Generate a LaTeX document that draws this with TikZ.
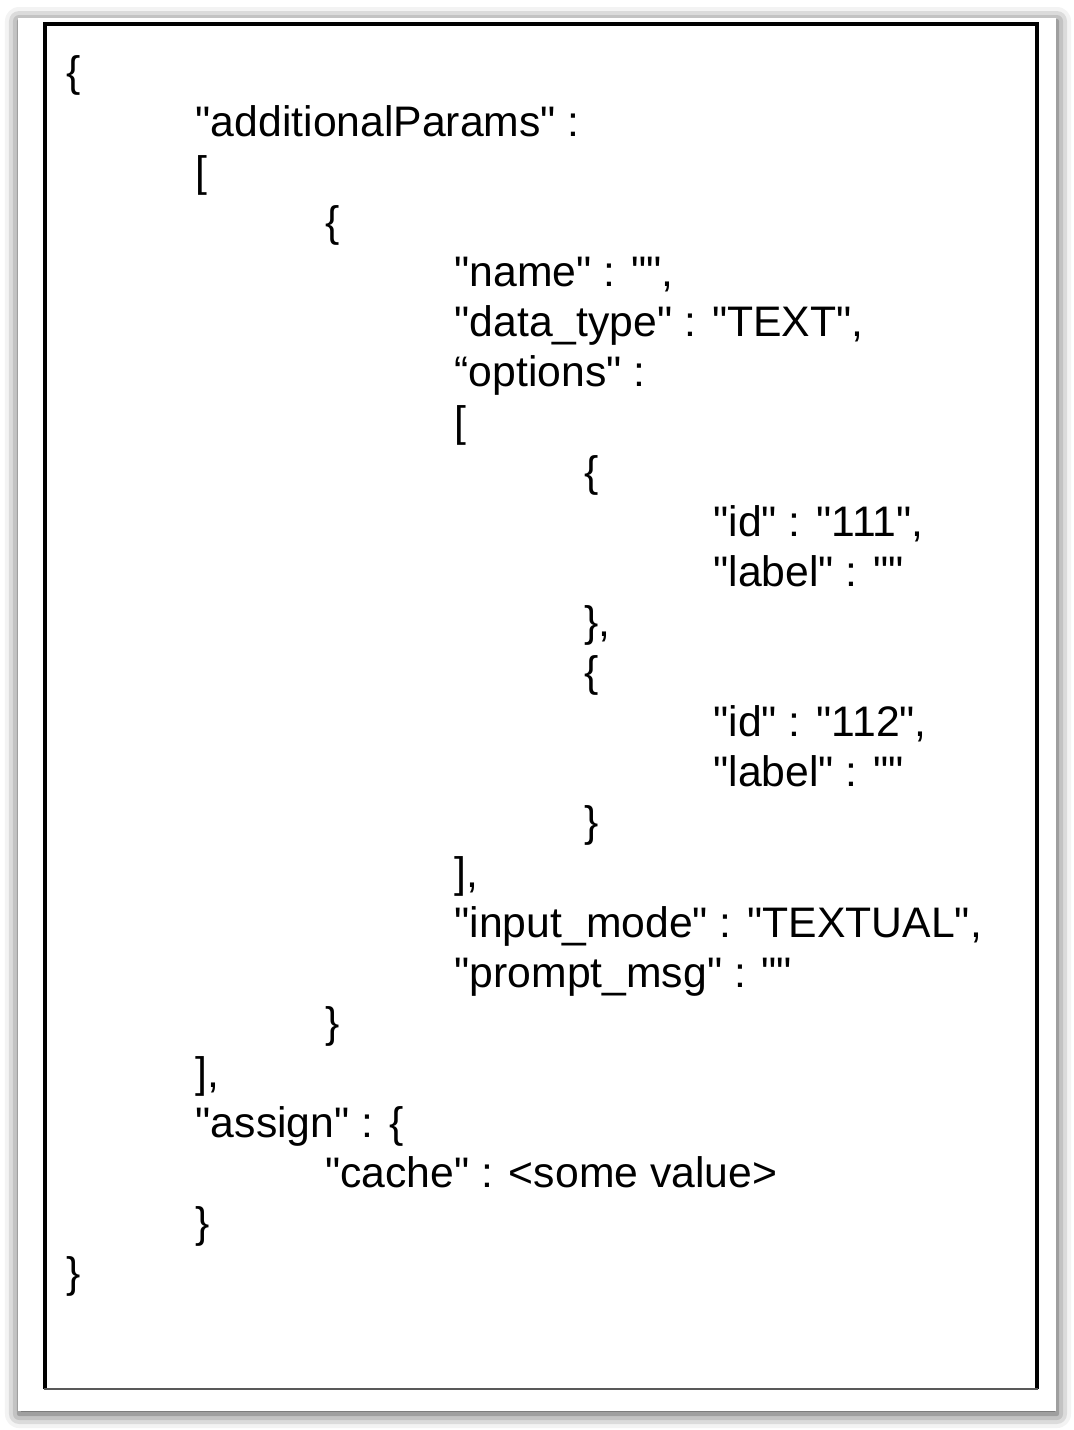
\documentclass[tikz,border=0pt]{standalone}
\usepackage{fontspec}
\setmainfont{Liberation Sans}[Ligatures=TeXOff]
\usepackage{tikz}
\usetikzlibrary{shadows.blur}

\begin{document}
\begin{tikzpicture}[x=0.5pt,y=-0.5pt,
  every node/.style={anchor=base west,inner sep=0pt,font=\fontsize{21.35pt}{25pt}\selectfont}]
\useasboundingbox (0,0) rectangle (1074,1430);
% sheet and frame
\fill[white,blur shadow={shadow xshift=0.5pt,shadow yshift=-1.5pt,shadow blur radius=7pt,shadow opacity=75}] (18,18) rectangle (1056,1411);
\draw[line width=1.7pt] (45,1389) -- (45,24) -- (1037,24) -- (1037,1389);
\draw[line width=1pt,black!65] (44,1389) -- (1038,1389);
% text lines
\node (A) at (66,86) {\{};
\node (B) at (195.4,136.1) {"additionalParams" :};
\node (C) at (195.4,186.1) {[};
\node (D) at (324.8,236.2) {\{};
\node (E) at (454.2,286.2) {"name" : "",};
\node (F) at (454.2,336.3) {"data\_type" : "TEXT",};
\node (G) at (454.2,386.4) {“options" :};
\node (H) at (454.2,436.4) {[};
\node (I) at (583.6,486.5) {\{};
\node (J) at (713,536.5) {"id" : "111",};
\node (K) at (713,586.6) {"label" : ""};
\node (L) at (583.6,636.7) {\},};
\node (M) at (583.6,686.7) {\{};
\node (N) at (713,736.8) {"id" : "112",};
\node (O) at (713,786.8) {"label" : ""};
\node (P) at (583.6,836.9) {\}};
\node (Q) at (454.2,887) {],};
\node (R) at (454.2,937) {"input\_mode" : "TEXTUAL",};
\node (S) at (454.2,987.1) {"prompt\_msg" : ""};
\node (T) at (324.8,1037.1) {\}};
\node (U) at (195.4,1087.2) {],};
\node (V) at (195.4,1137.3) {"assign" : \{};
\node (W) at (324.8,1187.3) {"cache" : <some value>};
\node (X) at (195.4,1237.4) {\}};
\node (Y) at (66,1287.4) {\}};
\end{tikzpicture}
\end{document}
